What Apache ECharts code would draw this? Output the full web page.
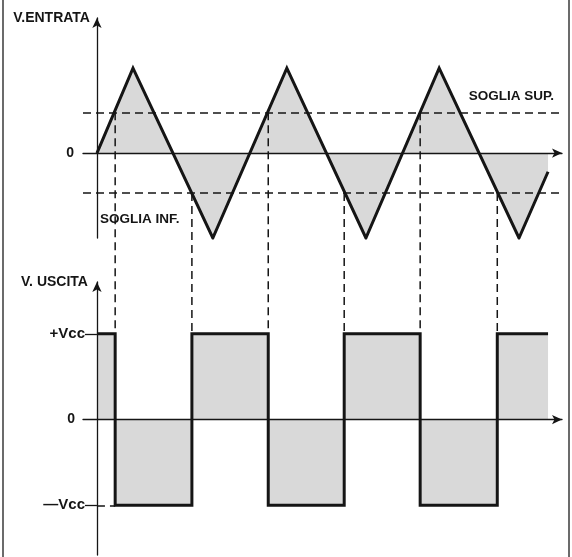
<!DOCTYPE html>
<html><head><meta charset="utf-8">
<script src="https://cdn.jsdelivr.net/npm/echarts@6/dist/echarts.min.js"></script>
<style>html,body{margin:0;padding:0;background:#fff}#c{width:572px;height:557px}</style>
</head><body><div id="c"></div>
<script>
// ---- data (time units, amplitude: peak = 1) ----
const inputTimes  = [0, 0.93, 2.99, 4.90, 6.94, 8.83, 10.89, 11.64];
const inputValues = [0, 1, -1, 1, -1, 1, -1, -0.22];
const thresholdSup = 0.48;
const thresholdInf = -0.47;
const thresholdLabels = ['SOGLIA SUP.', 'SOGLIA INF.'];

const switchTimes  = [0.47, 2.45, 4.42, 6.38, 8.34, 10.33];
const outputLevels = [1, -1, 1, -1, 1, -1, 1];   // level before/between/after switches
const outputEnd    = 11.64;
const VCC = 1;

const inputAxisName  = 'V.ENTRATA';
const outputAxisName = 'V. USCITA';
const inputTickValues = [0];
const inputTickLabels = ['0'];
const outputTickValues = [VCC, 0, -VCC];
const outputTickLabels = ['+Vcc', '0', '—Vcc'];

// ---- build series data ----
const inputData = inputTimes.map((t, i) => [t, inputValues[i]]);
const outputData = [[0, outputLevels[0]]];
switchTimes.forEach((t, i) => {
  outputData.push([t, outputLevels[i]]);
  outputData.push([t, outputLevels[i + 1]]);
});
outputData.push([outputEnd, outputLevels[outputLevels.length - 1]]);

const INK = '#151515';
const FILL = '#d9d9d9';
const FONT = "'Liberation Sans', Arial, sans-serif";
const txt = { color: INK, fontFamily: FONT, fontWeight: 'bold', fontSize: 13.5 };
const dashed = { color: INK, width: 1.5, type: [8, 5] };

function axisLineStyle() {
  return { show: true, onZero: true, symbol: ['none', 'arrow'], symbolSize: [7, 10],
           lineStyle: { color: INK, width: 1.3 } };
}

function buildOption(connectorEndY) {
  const connectors = switchTimes.map((t, i) => {
    const thr = outputLevels[i] > outputLevels[i + 1] ? thresholdSup : thresholdInf;
    return [t, thr, connectorEndY];
  });
  return {
    animation: false,
    backgroundColor: '#fff',
    grid: [
      { left: 83, right: 10, top: 18, height: 220 },
      { left: 83, right: 10, top: 282, height: 273 }
    ],
    xAxis: [0, 1].map(g => ({
      type: 'value', gridIndex: g, min: -0.36, max: 12,
      axisLine: axisLineStyle(), axisTick: { show: false }, axisLabel: { show: false },
      splitLine: { show: false }, z: 5
    })),
    yAxis: [
      { type: 'value', gridIndex: 0, min: -1, max: 1.59,
        name: inputAxisName, nameLocation: 'end', nameGap: 0,
        nameTextStyle: Object.assign({}, txt, { fontSize: 14, align: 'right', verticalAlign: 'middle', padding: [2, 7, 0, 0] }),
        axisLine: axisLineStyle(), axisTick: { show: false }, splitLine: { show: false },
        axisLabel: Object.assign({}, txt, { fontSize: 14, margin: 9, customValues: inputTickValues,
          formatter: v => inputTickLabels[inputTickValues.indexOf(v)] ?? '' }),
        z: 5 },
      { type: 'value', gridIndex: 1, min: -1.58, max: 1.605,
        name: outputAxisName, nameLocation: 'end', nameGap: 0,
        nameTextStyle: Object.assign({}, txt, { fontSize: 14, align: 'right', verticalAlign: 'middle', padding: [2, 9, 0, 0] }),
        axisLine: axisLineStyle(), splitLine: { show: false },
        axisTick: { show: true, length: 12, customValues: [VCC, -VCC], lineStyle: { color: INK, width: 1.3 } },
        axisLabel: Object.assign({}, txt, { fontSize: 15, margin: -2, customValues: outputTickValues,
          formatter: v => {
            const s = outputTickLabels[outputTickValues.indexOf(v)] ?? '';
            return v === 0 ? '{z|' + s + '}' : s;
          },
          rich: { z: Object.assign({}, txt, { fontSize: 14, padding: [0, 10, 0, 0] }) } }),
        z: 5 }
    ],
    series: [
      { type: 'line', xAxisIndex: 0, yAxisIndex: 0, data: inputData, symbol: 'none',
        lineStyle: { color: INK, width: 3, join: 'miter' },
        areaStyle: { color: FILL, opacity: 1, origin: 0 },
        markLine: { symbol: 'none', silent: true, animation: false,
          lineStyle: dashed,
          data: [
            { yAxis: thresholdSup,
              label: Object.assign({}, txt, { show: true, formatter: thresholdLabels[0], position: 'insideEndTop', distance: [8, 9] }) },
            { yAxis: thresholdInf,
              label: Object.assign({}, txt, { show: true, formatter: thresholdLabels[1], position: 'insideStartBottom', distance: [17, 19] }) }
          ]
        } },
      { type: 'line', xAxisIndex: 1, yAxisIndex: 1, data: outputData, symbol: 'none',
        lineStyle: { color: INK, width: 3, join: 'miter' },
        areaStyle: { color: FILL, opacity: 1, origin: 0 },
        markLine: { symbol: 'none', silent: true, animation: false, lineStyle: dashed,
          label: { show: false },
          data: [[{ coord: [0, -VCC] }, { coord: [switchTimes[0], -VCC] }]] } },
      // dashed connectors from threshold crossings down to the +Vcc level of the output chart
      { type: 'custom', xAxisIndex: 0, yAxisIndex: 0, clip: false, silent: true, z: 4,
        data: connectors,
        encode: { x: 0, y: [1, 2] },
        renderItem: (params, api) => {
          const p1 = api.coord([api.value(0), api.value(1)]);
          const p2 = api.coord([api.value(0), api.value(2)]);
          return { type: 'line', shape: { x1: p1[0], y1: p1[1], x2: p2[0], y2: p2[1] },
                   style: { stroke: INK, lineWidth: 1.5, lineDash: [8, 5] } };
        } }
    ],
    graphic: [
      { type: 'line', shape: { x1: 3, y1: 0, x2: 3, y2: 557 }, style: { stroke: '#3a3a3a', lineWidth: 1.5 } },
      { type: 'line', shape: { x1: 569, y1: 0, x2: 569, y2: 557 }, style: { stroke: '#3a3a3a', lineWidth: 1.5 } }
    ]
  };
}

const chart = echarts.init(document.getElementById('c'), null, { renderer: 'canvas' });
chart.setOption(buildOption(-1));
// end the connector lines at the +Vcc level of the output chart, through the library's scales
const vccPx = chart.convertToPixel({ gridIndex: 1 }, [0, VCC]);
const endY = chart.convertFromPixel({ gridIndex: 0 }, vccPx)[1];
chart.setOption(buildOption(endY), true);
</script>
</body></html>
